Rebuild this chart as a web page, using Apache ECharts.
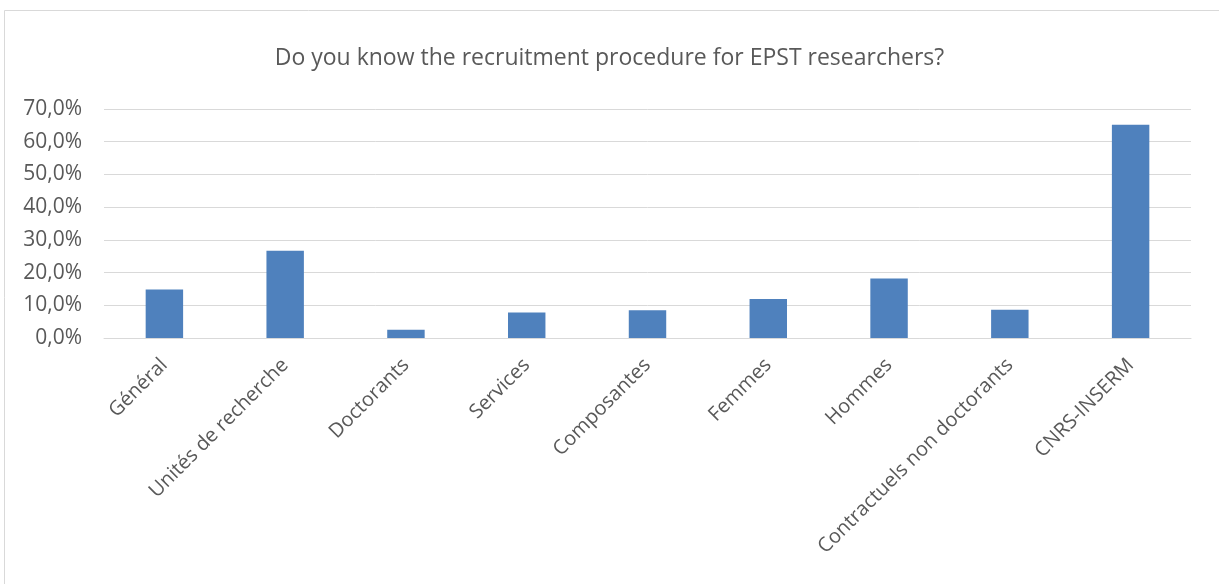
<!DOCTYPE html>
<html>
<head>
<meta charset="utf-8">
<script src="https://cdn.jsdelivr.net/npm/echarts@6/dist/echarts.min.js"></script>
<style>
html,body{margin:0;padding:0;background:#fff;}
#c{width:1219px;height:584px;}
</style>
</head>
<body>
<div id="c"></div>
<script>
const categories = ["Général","Unités de recherche","Doctorants","Services","Composantes","Femmes","Hommes","Contractuels non doctorants","CNRS-INSERM"];
const values = [14.8, 26.7, 2.5, 7.8, 8.5, 11.9, 18.2, 8.6, 65.2];
const titleText = "Do you know the recruitment procedure for EPST researchers?";

const chart = echarts.init(document.getElementById('c'));
const FONT = "'Open Sans', sans-serif";
chart.setOption({
  animation: false,
  graphic: [{
    type: 'rect', left: 4, top: 10, z: -1,
    shape: { width: 1230, height: 600 },
    style: { fill: '#fff', stroke: '#d9d9d9', lineWidth: 1 }
  }],
  title: {
    text: titleText, left: 'center', top: 42,
    textStyle: { fontFamily: FONT, fontSize: 23, fontWeight: 'normal', color: '#595959' }
  },
  grid: { left: 104, right: 28, top: 109, bottom: 246, containLabel: false },
  xAxis: {
    type: 'category', data: categories,
    axisLine: { lineStyle: { color: '#d9d9d9', width: 1 } },
    axisTick: { show: false },
    axisLabel: { rotate: 45, interval: 0, margin: 24, fontFamily: FONT, fontSize: 20, color: '#595959' }
  },
  yAxis: {
    type: 'value', min: 0, max: 70, interval: 10,
    axisLine: { show: false }, axisTick: { show: false },
    splitLine: { lineStyle: { color: '#d9d9d9', width: 1 } },
    axisLabel: { margin: 22, fontFamily: FONT, fontSize: 21, color: '#595959',
      formatter: v => v.toFixed(1).replace('.', ',') + '%' }
  },
  series: [{
    type: 'bar', data: values, barWidth: '31%',
    itemStyle: { color: '#4F81BD' }
  }]
});
</script>
</body>
</html>
